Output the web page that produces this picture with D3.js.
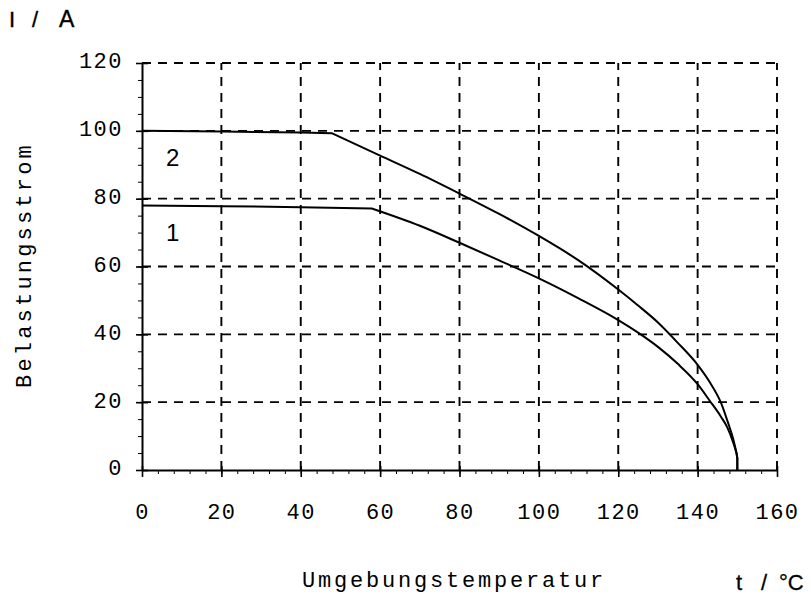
<!DOCTYPE html>
<html>
<head>
<meta charset="utf-8">
<script src="https://cdn.jsdelivr.net/npm/d3@7/dist/d3.min.js"></script>
<style>
  html, body { margin: 0; padding: 0; background: #fff; }
  svg { display: block; }
</style>
</head>
<body>
<svg id="chart" width="811" height="596"></svg>
<script>
// ---- data ----
const xTicks = [0, 20, 40, 60, 80, 100, 120, 140, 160];
const yTicks = [0, 20, 40, 60, 80, 100, 120];
const xMinor = d3.range(0, 161, 4);
const yMinor = d3.range(0, 121, 5);

// index 3 of each series is the knee where the curve starts to fall
const curve2T = [0, 20, 40, 47.8, 60, 70, 80, 90, 100, 110, 120, 125, 130, 135, 140, 143, 146, 147.5, 149, 149.8];
const curve2I = [100, 99.8, 99.5, 99.3, 92.7, 87.3, 81.5, 75.5, 69, 61.8, 53.2, 48.5, 43.5, 37.5, 31, 26, 19.5, 14.5, 9, 5];
const curve1T = [0, 20, 40, 57.9, 70, 80, 90, 100, 110, 120, 125, 130, 135, 140, 143, 146, 147.5, 149, 149.8];
const curve1I = [78, 77.8, 77.5, 77.1, 72, 67, 61.8, 56.5, 50.6, 44.2, 40.5, 36.3, 31.3, 25.3, 20.5, 15.5, 12.5, 8, 5];
const endT = [150, 150];
const endI = [3.5, 0];
const curveLabels = ["1", "2"];

const yTitle = "Belastungsstrom";
const xTitle = "Umgebungstemperatur";
const yUnit = ["I", "/", "A"];
const xUnit = ["t", "/", "°C"];

// ---- layout ----
const svg = d3.select("#chart");
const x = d3.scaleLinear().domain([0, 160]).range([142, 777]);
const y = d3.scaleLinear().domain([0, 120]).range([470, 63]);
const mono = "'Liberation Mono', 'Courier New', monospace";
const sans = "'Liberation Sans', Arial, sans-serif";

// dashed grid
const grid = svg.append("g").attr("stroke", "#000").attr("stroke-width", 1.9).attr("stroke-dasharray", "9,7");
grid.selectAll("line.v").data(xTicks.filter(d => d > 0)).join("line")
  .attr("x1", d => x(d)).attr("x2", d => x(d)).attr("y1", y(0)).attr("y2", y(120));
grid.selectAll("line.h").data(yTicks.filter(d => d > 0)).join("line")
  .attr("x1", x(0)).attr("x2", x(160)).attr("y1", d => y(d)).attr("y2", d => y(d));

// minor ticks
const xMinorAxis = svg.append("g").attr("transform", `translate(0,${y(0)})`)
  .call(d3.axisBottom(x).tickValues(xMinor).tickSize(4).tickFormat(""));
xMinorAxis.select(".domain").remove();
const yMinorAxis = svg.append("g").attr("transform", `translate(${x(0)},0)`)
  .call(d3.axisLeft(y).tickValues(yMinor).tickSize(4).tickFormat(""));
yMinorAxis.select(".domain").remove();

// major axes
const xAxis = svg.append("g").attr("transform", `translate(0,${y(0)})`)
  .call(d3.axisBottom(x).tickValues(xTicks).tickSize(7).tickSizeOuter(0));
xAxis.select(".domain").attr("stroke-width", 2);
xAxis.selectAll(".tick line").attr("y1", -4).attr("stroke-width", 1.6);
xAxis.selectAll(".tick text").attr("y", 49).attr("dy", 0)
  .attr("font-family", mono).attr("font-size", 22).attr("letter-spacing", 1.5).attr("fill", "#000");

const yAxis = svg.append("g").attr("transform", `translate(${x(0)},0)`)
  .call(d3.axisLeft(y).tickValues(yTicks).tickSize(6).tickSizeOuter(0));
yAxis.select(".domain").attr("stroke-width", 2);
yAxis.selectAll(".tick line").attr("x1", 6).attr("stroke-width", 1.6);
yAxis.selectAll(".tick text").attr("x", -19).attr("dy", "0.22em")
  .attr("font-family", mono).attr("font-size", 22).attr("letter-spacing", 1.5).attr("fill", "#000");
svg.selectAll(".tick line").attr("stroke", "#000");

// curves: flat part (straight), falling part (smooth), vertical drop at 150 °C
const smooth = d3.line().x(d => x(d[0])).y(d => y(d[1])).curve(d3.curveMonotoneX);
const straight = d3.line().x(d => x(d[0])).y(d => y(d[1]));
const drop = endT.map((t, i) => [t, endI[i]]);
const c1 = curve1T.map((t, i) => [t, curve1I[i]]);
const c2 = curve2T.map((t, i) => [t, curve2I[i]]);
const knee = 3;
const buildPath = d => straight(d.slice(0, knee + 1))
  + smooth(d.slice(knee)).replace(/^M/, "L")
  + straight([d[d.length - 1], ...drop]).replace(/^M/, "L");
const cg = svg.append("g").attr("fill", "none").attr("stroke", "#000")
  .attr("stroke-width", 2).attr("stroke-linejoin", "round");
cg.selectAll("path.c").data([c1, c2]).join("path").attr("d", buildPath);

// curve labels
svg.append("text").text(curveLabels[1]).attr("x", x(7.7)).attr("y", y(89.6))
  .attr("font-family", sans).attr("font-size", 24).attr("text-anchor", "middle");
svg.append("text").text(curveLabels[0]).attr("x", x(7.7)).attr("y", y(67.4))
  .attr("font-family", sans).attr("font-size", 24).attr("text-anchor", "middle");

// titles
svg.append("text").text(xTitle).attr("x", 454).attr("y", 587)
  .attr("text-anchor", "middle").attr("font-family", mono).attr("font-size", 22).attr("letter-spacing", 2.8);
svg.append("text").text(yTitle).attr("transform", "translate(31,265) rotate(-90)")
  .attr("text-anchor", "middle").attr("font-family", mono).attr("font-size", 22).attr("letter-spacing", 3.2);

// units
const uy = svg.append("text").attr("y", 27).attr("font-family", sans).attr("font-size", 22)
  .attr("stroke", "#000").attr("stroke-width", 0.4);
uy.selectAll("tspan").data(yUnit).join("tspan").attr("x", (d, i) => [9, 32, 59][i]).text(d => d)
  .attr("font-size", (d, i) => i === 2 ? 23 : 22);
const ux = svg.append("text").attr("y", 590).attr("font-family", sans).attr("font-size", 22)
  .attr("stroke", "#000").attr("stroke-width", 0.3);
ux.selectAll("tspan").data(xUnit).join("tspan").attr("x", (d, i) => [736, 761, 779][i]).text(d => d);
</script>
</body>
</html>
